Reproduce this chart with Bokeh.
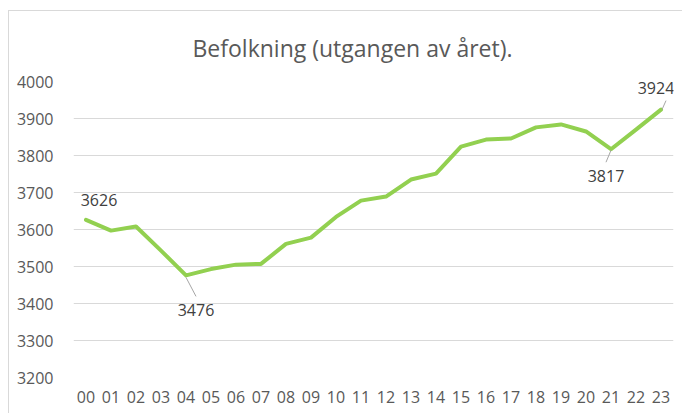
from bokeh.plotting import figure
from bokeh.models import (ColumnDataSource, FixedTicker, Range1d, FactorRange, LabelSet)
from bokeh.core.properties import value
from bokeh.embed import file_html
from bokeh.resources import INLINE

years = ["00", "01", "02", "03", "04", "05", "06", "07", "08", "09", "10", "11",
         "12", "13", "14", "15", "16", "17", "18", "19", "20", "21", "22", "23"]
population = [3626, 3597, 3608, 3543, 3476, 3493, 3505, 3507, 3561, 3578, 3634, 3678,
              3689, 3735, 3751, 3824, 3843, 3846, 3876, 3884, 3865, 3817, 3870, 3924]
y_ticks = [3200, 3300, 3400, 3500, 3600, 3700, 3800, 3900, 4000]
labelled_years = ["00", "04", "21", "23"]

FONT = "Open Sans"
OX, OY = 9, 11          # outer chart-area border offset (margin + 1px border)
W, H = 683 - OX, 414 - OY
ML, MR, MT, MB = 73 - OX, 10, 81 - OY, 37
frame_w, frame_h = W - ML - MR, H - MT - MB

p = figure(width=W, height=H, output_backend="svg", toolbar_location=None,
           x_range=FactorRange(*years, range_padding=0),
           y_range=Range1d(y_ticks[0], y_ticks[-1]),
           min_border_left=ML, min_border_right=MR, min_border_top=MT, min_border_bottom=MB,
           title="Befolkning (utgangen av året).")
p.styles = {"margin-left": "8px", "margin-top": "10px",
            "border-left": "1px solid #d9d9d9", "border-top": "1px solid #d9d9d9"}
p.outline_line_color = None
p.background_fill_color = "white"
p.border_fill_color = "white"

p.title.text_font = FONT
p.title.text_font_size = "23px"
p.title.text_font_style = "normal"
p.title.text_color = "#595959"
p.title.align = "left"
p.title.offset = 119
p.title.standoff = 36

p.xgrid.grid_line_color = None
p.ygrid.grid_line_color = "#d9d9d9"
p.ygrid.grid_line_width = 1
p.yaxis.ticker = FixedTicker(ticks=y_ticks)

for ax in (p.xaxis, p.yaxis):
    ax.axis_line_color = None
    ax.major_tick_line_color = None
    ax.minor_tick_line_color = None
    ax.major_tick_out = 0
    ax.major_tick_in = 0
    ax.major_label_text_font = FONT
    ax.major_label_text_font_size = "16px"
    ax.major_label_text_color = "#595959"
p.yaxis.major_label_standoff = 20
p.xaxis.major_label_standoff = 13

src = ColumnDataSource(dict(x=years, y=population))
p.line("x", "y", source=src, line_color="#92D050", line_width=4,
       line_join="round", line_cap="round")

# data labels with leader lines
px_per_cat = frame_w / len(years)
px_per_unit = frame_h / (y_ticks[-1] - y_ticks[0])
offsets = {"00": (13, -20, None), "04": (10, 35, ((0, 2), (10, 21))),
           "21": (-5, 27, ((0, 1), (-5, 13))), "23": (-5, -22, ((1, 0), (5, -9)))}
lx, ly, lt, xo, yo = [], [], [], [], []
sx0, sy0, sx1, sy1 = [], [], [], []
for yr in labelled_years:
    i = years.index(yr)
    v = population[i]
    dx, dy, leader = offsets[yr]
    lx.append(yr); ly.append(v); lt.append(str(v)); xo.append(dx); yo.append(-dy)
    if leader:
        (a, b), (c, d) = leader
        sx0.append(i + 0.5 + a / px_per_cat); sy0.append(v - b / px_per_unit)
        sx1.append(i + 0.5 + c / px_per_cat); sy1.append(v - d / px_per_unit)

p.segment(x0=sx0, y0=sy0, x1=sx1, y1=sy1, line_color="#a6a6a6", line_width=1)
lab_src = ColumnDataSource(dict(x=lx, y=ly, text=lt, xo=xo, yo=yo))
p.add_layout(LabelSet(x="x", y="y", text="text", x_offset="xo", y_offset="yo",
                      source=lab_src, text_align="center", text_baseline="middle",
                      text_font=value(FONT), text_font_size=value("16px"),
                      text_color="#404040"))

open("out.html", "w").write(file_html(p, INLINE))
